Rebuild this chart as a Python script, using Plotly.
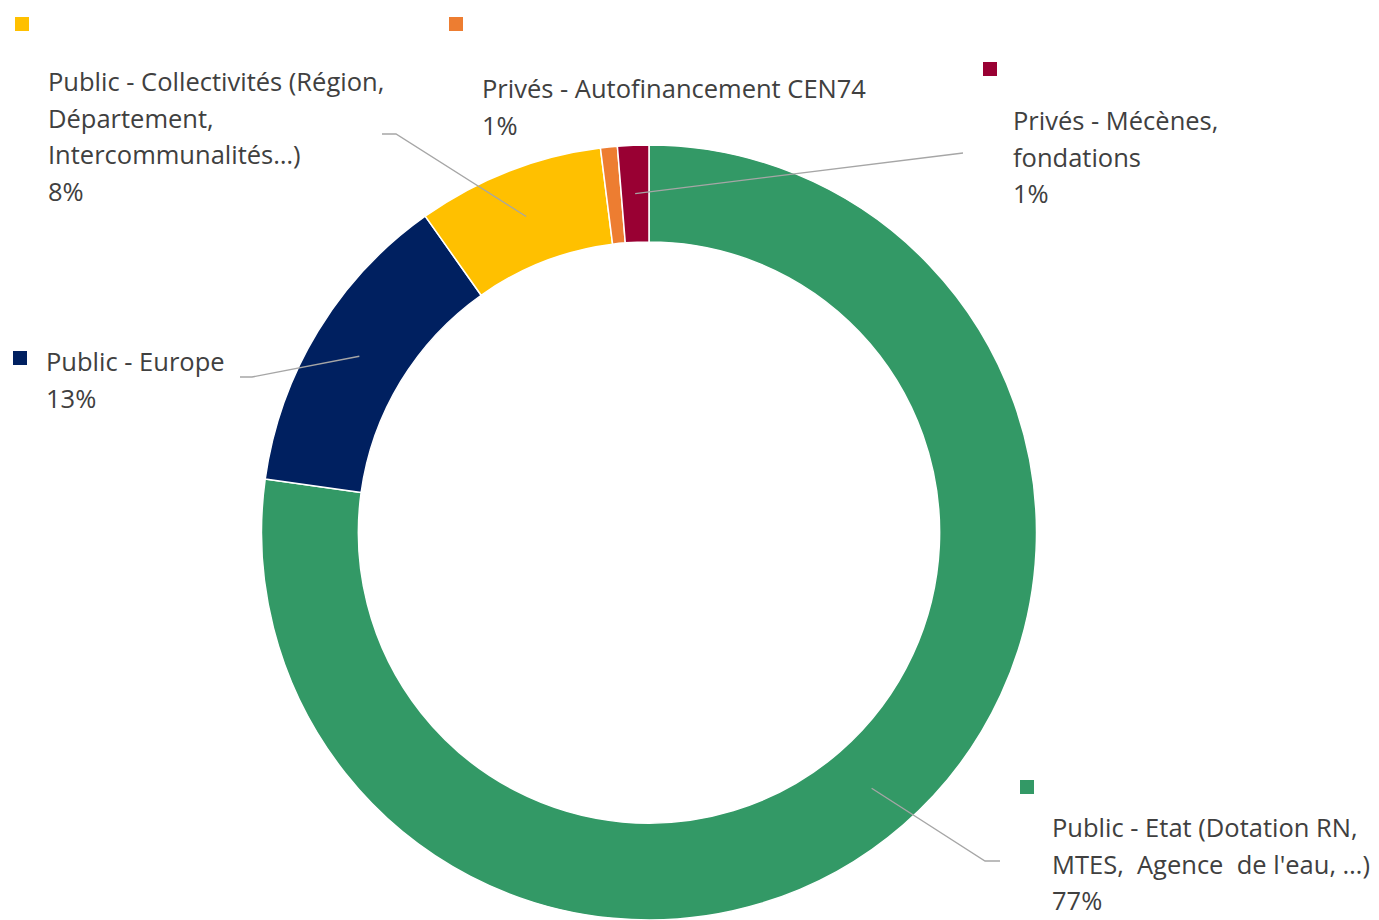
import plotly.graph_objects as go
import math

# ---- data ----
categories = [
    "Public - Etat (Dotation RN, MTES, Agence de l'eau, …)",
    "Public - Europe",
    "Public - Collectivités (Région, Département, Intercommunalités…)",
    "Privés - Autofinancement CEN74",
    "Privés - Mécènes, fondations",
]
values = [77.2, 13.0, 7.8, 0.7, 1.3]
label_lines = [
    ["Public - Etat (Dotation RN,", "MTES,  Agence  de l'eau, …)"],
    ["Public - Europe"],
    ["Public - Collectivités (Région,", "Département,", "Intercommunalités…)"],
    ["Privés - Autofinancement CEN74"],
    ["Privés - Mécènes,", "fondations"],
]
colors = ["#339966", "#002060", "#FFC000", "#ED7D31", "#990033"]

# ---- layout (pixels) ----
W, H = 1379, 920
CX, R = 649, 387.5
TOP = 145
CY = TOP + R
HOLE = 0.75
LINE_H = 36.7
FONT = dict(family="Open Sans, Lato, sans-serif", size=25.5, color="#404040")

label_pos = [
    dict(x=1050, y=827, key=(1027, 787)),
    dict(x=44, y=361, key=(20, 358)),
    dict(x=46, y=81, key=(22, 24)),
    dict(x=480, y=88, key=(456, 24)),
    dict(x=1011, y=120, key=(990, 69)),
]
leader = [
    [(1000, 861), (985, 861)],
    [(240, 377), (252, 377)],
    [(382, 134), (396, 134)],
    None,
    [(963, 153)],
]

def px(x):
    return x / W

def py(y):
    return 1 - y / H

total = sum(values)
fig = go.Figure()
fig.add_trace(go.Pie(
    labels=categories, values=values, sort=False, direction="clockwise",
    rotation=0, hole=HOLE, textinfo="none", hoverinfo="label+percent",
    marker=dict(colors=colors, line=dict(color="white", width=1.5)),
    domain=dict(x=[px(CX - R), px(CX + R)], y=[0, py(TOP)]),
    showlegend=False,
))

annotations = []
shapes = []
cum = 0
for i, v in enumerate(values):
    mid = (cum + v / 2) / total * 2 * math.pi
    cum += v
    rm = R * (1 + HOLE) / 2
    ex = CX + rm * math.sin(mid)
    ey = CY - rm * math.cos(mid)
    lp = label_pos[i]
    lines = label_lines[i] + [f"{round(v / total * 100)}%"]
    for j, t in enumerate(lines):
        annotations.append(dict(
            x=px(lp["x"]), y=py(lp["y"] + j * LINE_H), xref="paper", yref="paper",
            text=t, showarrow=False, xanchor="left", yanchor="middle", font=FONT,
        ))
    kx, ky = lp["key"]
    s = 7
    shapes.append(dict(type="rect", xref="paper", yref="paper",
                       x0=px(kx - s), x1=px(kx + s), y0=py(ky - s), y1=py(ky + s),
                       fillcolor=colors[i], line=dict(width=0)))
    if leader[i]:
        pts = leader[i] + [(ex, ey)]
        path = "M " + " L ".join(f"{px(a):.5f},{py(b):.5f}" for a, b in pts)
        shapes.append(dict(type="path", xref="paper", yref="paper", path=path,
                           line=dict(color="#A6A6A6", width=1.3)))

fig.update_layout(
    width=W, height=H, margin=dict(l=0, r=0, t=0, b=0),
    paper_bgcolor="white", plot_bgcolor="white",
    annotations=annotations, shapes=shapes,
)

fig.write_html("out.html", config={"displayModeBar": False},
               post_script="document.body.style.margin='0';document.body.style.overflow='hidden';")
